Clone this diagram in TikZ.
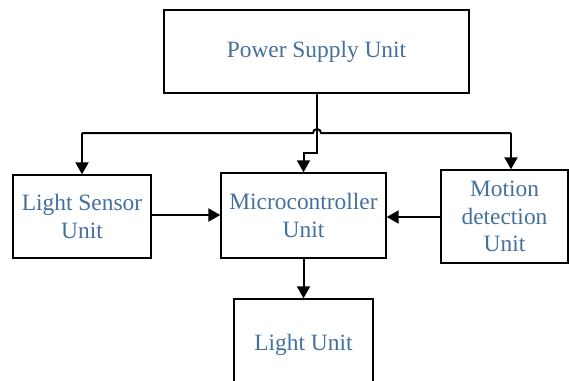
\documentclass[tikz,border=0pt]{standalone}
\usepackage{fontspec}
\setmainfont{Liberation Serif}
\usetikzlibrary{arrows.meta,positioning}
\definecolor{labelblue}{RGB}{68,112,158}

\begin{document}
\begin{tikzpicture}[x=0.5pt, y=-0.5pt,
    unit/.style={rectangle, draw=black, line width=0.7pt, align=center, inner sep=0pt, text=labelblue, font=\fontsize{11.7}{13.8}\selectfont},
    arrow/.style={-{Triangle[length=6pt,width=6.5pt]}, line width=1pt},
    wire/.style={line width=1pt}
]
\useasboundingbox (0,0) rectangle (569,381);

\node[unit, minimum width=152.5pt, minimum height=41.5pt] (power) at (316.5,51.5) {Power Supply Unit};

\node[unit, minimum width=69pt, minimum height=41.5pt] (sensor) at (82,216.5) {Light Sensor\\Unit};

\node[unit, minimum width=82.5pt, minimum height=42.5pt] (micro) at (303.5,215.5) {Microcontroller\\Unit};

\node[unit, minimum width=63.5pt, minimum height=46.5pt] (motion) at (504.5,216.5) {Motion\\detection\\Unit};

\node[unit, minimum width=69.5pt, minimum height=48pt] (light) at (303.5,347) {\raisebox{5pt}{Light Unit}};

% supply bus
\coordinate (busL) at (82,133);
\coordinate (busR) at (511,133);
\coordinate (hop) at (317,133);
\coordinate (bend) at (317,153);

\draw[wire] (busL) -- ([xshift=-2pt]hop) arc (180:360:4) -- (busR);
\draw[arrow] (busL) -- (sensor.north);
\draw[arrow] (busR) -- (busR |- motion.north);
\draw[arrow] (power.south -| bend) -- (bend) -- (bend -| micro.north) -- (micro.north);

\draw[arrow] (sensor.east |- 0,215) -- (micro.west |- 0,215);
\draw[arrow] (motion.west |- 0,217) -- (micro.east |- 0,217);
\draw[arrow] (micro.south) -- (light.north);

\end{tikzpicture}
\end{document}
